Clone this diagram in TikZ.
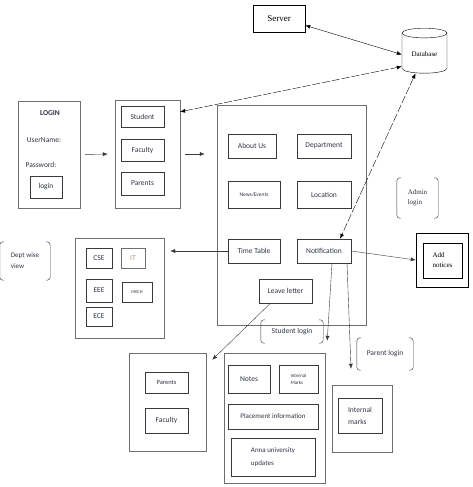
\documentclass[tikz,border=0pt]{standalone}
\usepackage{fontspec}
\setmainfont{Carlito}
\newfontfamily\timesfont{Liberation Serif}
\usetikzlibrary{arrows.meta,calc,shapes.geometric}
\definecolor{ink}{HTML}{3A3A3A}
\definecolor{frame}{HTML}{6E6E6E}
\definecolor{textc}{HTML}{2E3442}
\definecolor{faded}{HTML}{B09A80}

\begin{document}
\begin{tikzpicture}[x=1pt,y=-1pt,
  font=\fontsize{7.5}{9}\selectfont,
  text=textc,
  >={Latex[length=5pt,width=4pt]},
  panel/.style={draw=frame,inner sep=0pt},
  btn/.style={draw=ink,inner sep=1pt,align=center},
  boldbtn/.style={btn,line width=1pt},
  link/.style={draw=ink,->},
  dbl/.style={draw=black,<->},
  dashlink/.style={draw=black,<->,dash pattern=on 8pt off 2pt},
  tag/.style={inner sep=1pt,align=left},
  bracket/.style={draw=ink,rounded corners=3pt}
]
\useasboundingbox (0,0) rectangle (473,487);
% --- server and database ---------------------------------------------
\node[draw=black,minimum width=52pt,minimum height=27pt,font=\timesfont\fontsize{9}{10}\selectfont,text=black] (server) at (279,18.5) {Server};
\node[cylinder,shape border rotate=90,draw=black,aspect=0.3,minimum width=45pt,minimum height=45pt,
  font=\timesfont\fontsize{7}{8}\selectfont,text=black] (db) at (424.5,54.5) {Database};
% --- login and user group --------------------------------------------
\node[panel,minimum width=62pt,minimum height=107pt] (login) at (49,154.5) {};
\node[font=\fontsize{7.5}{8}\selectfont\bfseries] (logintitle) at (50,113) {LOGIN};
\node (user) at (44,140) {UserName:};
\node (pass) at (41,165) {Password:};
\node[btn,minimum width=32pt,minimum height=22pt] (loginbtn) at (46,187) {login};
\node[panel,minimum width=65pt,minimum height=108pt] (group) at (147.5,154) {};
\node[btn,minimum width=43pt,minimum height=21pt] (student) at (142.5,116.5) {Student};
\node[btn,minimum width=43pt,minimum height=22pt] (faculty) at (142.5,150) {Faculty};
\node[boldbtn,minimum width=43pt,minimum height=23pt] (parents) at (142.5,183.5) {Parents};
% --- main page -------------------------------------------------------
\node[panel,minimum width=149pt,minimum height=220pt] (main) at (291.5,215) {};
\node[btn,minimum width=48pt,minimum height=24pt] (about) at (252,146) {About Us};
\node[btn,minimum width=54pt,minimum height=24pt] (dept) at (324,146) {Department};
\node[btn,minimum width=52pt,minimum height=27pt,font=\fontsize{5.5}{6}\selectfont] (news) at (254,194.5) {News/Events};
\node[btn,minimum width=54pt,minimum height=27pt] (location) at (324,194.5) {Location};
\node[btn,minimum width=52pt,minimum height=24pt] (timetable) at (254,251) {Time Table};
\node[btn,minimum width=54pt,minimum height=24pt] (notif) at (324,251) {Notification};
\node[btn,minimum width=53pt,minimum height=24pt] (leave) at (285.5,291) {Leave letter};
% --- admin side ------------------------------------------------------
\node[tag,minimum width=41pt,minimum height=40pt,font=\timesfont\fontsize{7}{10}\selectfont] (admin) at (417.5,198) {Admin\\login};
\node[draw=black,minimum width=52pt,minimum height=54pt] (addn) at (442,260) {};
\node[draw=black,minimum width=39pt,minimum height=35pt,align=left,
  font=\timesfont\fontsize{7}{10}\selectfont,text=black] (addin) at (442.5,260.5) {Add\\notices};
% --- department view -------------------------------------------------
\node[tag,minimum width=50pt,minimum height=38pt,font=\fontsize{7}{11}\selectfont] (deptview) at (25,261) {Dept wise\\view};
\node[panel,minimum width=89pt,minimum height=100pt] (deptbox) at (119.5,288) {};
\node[btn,minimum width=26pt,minimum height=20pt] (cse) at (99,258) {CSE};
\node[btn,minimum width=24pt,minimum height=20pt,text=faded,draw=frame] (it) at (133,258) {IT};
\node[btn,minimum width=26pt,minimum height=23pt] (eee) at (99,290.5) {EEE};
\node[btn,minimum width=30pt,minimum height=20pt,font=\fontsize{4.5}{5}\selectfont] (mech) at (137,292) {MECH};
\node[btn,minimum width=26pt,minimum height=19pt] (ece) at (99,316.5) {ECE};
% --- leave letter targets --------------------------------------------
\node[panel,minimum width=77pt,minimum height=98pt] (pf) at (167.5,402) {};
\node[boldbtn,minimum width=43pt,minimum height=21pt,font=\fontsize{6.5}{7}\selectfont] (pparents) at (166.5,382.5) {Parents};
\node[btn,minimum width=43pt,minimum height=25pt] (pfaculty) at (166.5,420.5) {Faculty};
% --- student login ---------------------------------------------------
\node[tag,minimum width=62pt,minimum height=23pt,font=\fontsize{7.5}{8}\selectfont] (stulogin) at (292,331.5) {Student login};
\node[panel,minimum width=101pt,minimum height=130pt] (stubox) at (274.5,418) {};
\node[btn,minimum width=42pt,minimum height=28pt] (notes) at (249,379) {Notes};
\node[btn,minimum width=39pt,minimum height=28pt,font=\fontsize{5}{7}\selectfont,align=left] (imarks) at (298.5,379) {Internal\\Marks};
\node[btn,minimum width=90pt,minimum height=25pt,font=\fontsize{7}{8}\selectfont] (placement) at (273,416.5) {Placement information};
\node[btn,minimum width=84pt,minimum height=38pt,align=left,font=\fontsize{7}{13}\selectfont] (anna) at (273,457) {Anna university\\updates};
% --- parent login ----------------------------------------------------
\node[tag,minimum width=56pt,minimum height=32pt,font=\fontsize{7.5}{8}\selectfont] (parlogin) at (385,354) {Parent login};
\node[panel,minimum width=60pt,minimum height=67pt] (parbox) at (362,418.5) {};
\node[btn,minimum width=44pt,minimum height=35pt,align=left,font=\fontsize{7.5}{12}\selectfont] (pimarks) at (360,415.5) {Internal\\marks};
% --- brackets round the labels ---------------------------------------
\foreach \b in {admin,deptview,stulogin,parlogin}{
  \draw[bracket] ([xshift=4pt]\b.north west) -| (\b.south west) -- ([xshift=4pt]\b.south west);
  \draw[bracket] ([xshift=-4pt]\b.north east) -| (\b.south east) -- ([xshift=-4pt]\b.south east);
}
% --- connectors ------------------------------------------------------
\draw[link,shorten <=5pt,shorten >=7pt] (login.east) -- (group.west);
\draw[link,shorten <=5pt,shorten >=12pt] (group.east) -- (group.east -| main.west);
\draw[dbl] ($(server.east)!0.5!(server.south east)$) -- (db.west);
\draw[dashlink] ([yshift=-12pt]group.north east) -- ([yshift=-12pt]db.west);
\draw[dashlink] ([xshift=-9pt]db.south) -- ([xshift=16pt]notif.north);
\draw[link,shorten >=6pt] (timetable.west) -- (timetable.west -| deptbox.east);
\draw[link] (notif.east) -- (addn.west);
\draw[link] ([xshift=-15pt]leave.south) -- ([xshift=6pt,yshift=-7pt]pf.north east);
\draw[link] ([xshift=8pt]notif.south) -- ([xshift=2pt,yshift=12pt]stubox.north east);
\draw[link] ([xshift=23pt]notif.south) -- ([xshift=-11pt,yshift=16pt]parbox.north);
\end{tikzpicture}
\end{document}
